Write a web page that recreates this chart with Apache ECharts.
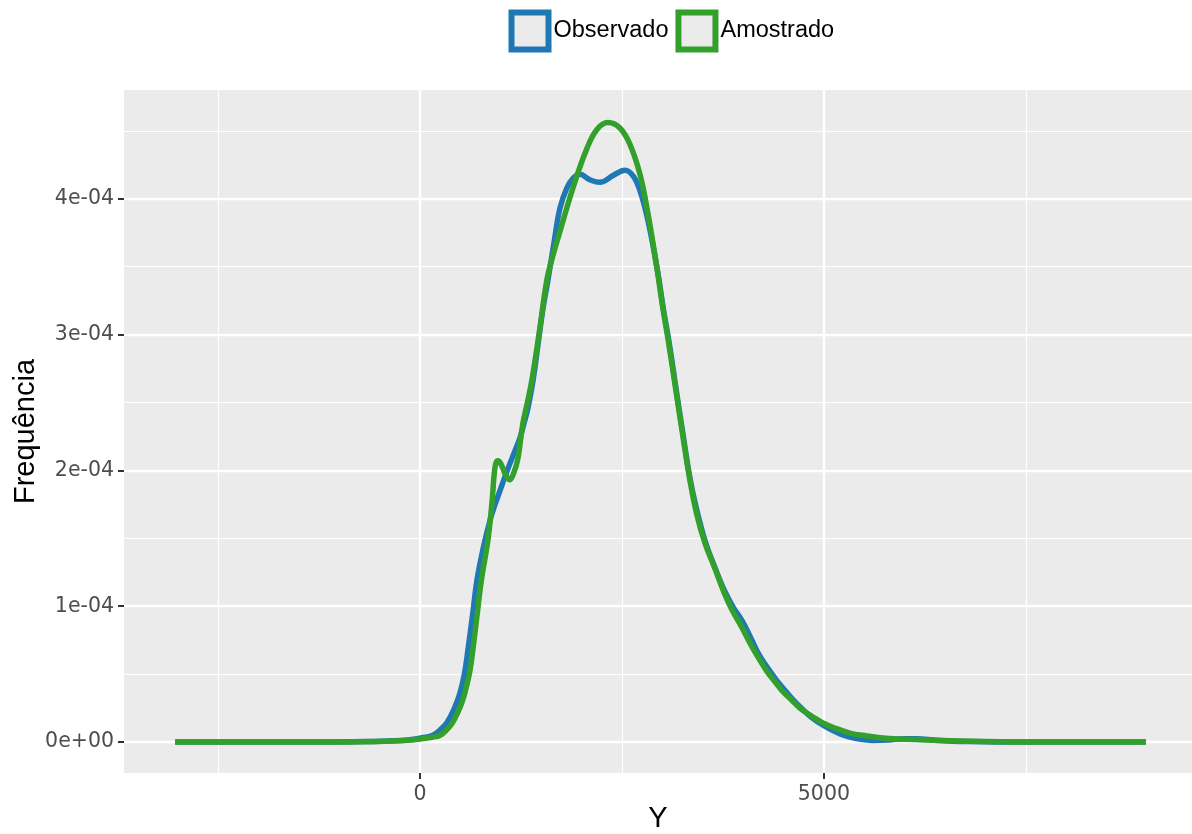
<!DOCTYPE html>
<html>
<head>
<meta charset="utf-8">
<script src="https://cdn.jsdelivr.net/npm/echarts@6/dist/echarts.min.js"></script>
<style>
  html, body { margin: 0; padding: 0; background: #ffffff; }
  #chart { width: 1192px; height: 834px; }
</style>
</head>
<body>
<div id="chart"></div>
<script>
// Kernel density estimates of Y: observed sample vs. resampled values
const observadoX = [-3030, -2000, -1200, -700, -400, -150, 0, 160, 250, 330, 420, 495, 550, 594, 650, 705, 780, 866, 930, 990, 1050, 1114, 1180, 1238, 1290, 1337, 1399, 1460, 1520, 1584, 1660, 1733, 1819, 1894, 1980, 2100, 2228, 2389, 2537, 2636, 2723, 2822, 2946, 3010, 3090, 3170, 3255, 3340, 3430, 3535, 3655, 3765, 3880, 3990, 4100, 4200, 4310, 4420, 4520, 4620, 4720, 4850, 5000, 5200, 5400, 5600, 5800, 6000, 6150, 6400, 6800, 7500, 8985];
const observadoY = [0, 0, 0, 0.003e-4, 0.008e-4, 0.015e-4, 0.028e-4, 0.05e-4, 0.09e-4, 0.14e-4, 0.24e-4, 0.36e-4, 0.50e-4, 0.68e-4, 0.93e-4, 1.19e-4, 1.42e-4, 1.63e-4, 1.75e-4, 1.85e-4, 1.95e-4, 2.05e-4, 2.15e-4, 2.24e-4, 2.35e-4, 2.46e-4, 2.66e-4, 2.92e-4, 3.18e-4, 3.40e-4, 3.68e-4, 3.93e-4, 4.08e-4, 4.15e-4, 4.18e-4, 4.14e-4, 4.12e-4, 4.17e-4, 4.21e-4, 4.17e-4, 4.06e-4, 3.84e-4, 3.45e-4, 3.20e-4, 2.92e-4, 2.60e-4, 2.27e-4, 1.95e-4, 1.70e-4, 1.47e-4, 1.28e-4, 1.12e-4, 0.99e-4, 0.89e-4, 0.76e-4, 0.64e-4, 0.54e-4, 0.45e-4, 0.38e-4, 0.31e-4, 0.25e-4, 0.18e-4, 0.12e-4, 0.06e-4, 0.025e-4, 0.012e-4, 0.015e-4, 0.025e-4, 0.025e-4, 0.012e-4, 0.004e-4, 0, 0];

const amostradoX = [-3030, -2000, -1200, -700, -400, -150, 0, 150, 250, 330, 400, 470, 530, 580, 620, 655, 700, 760, 842, 891, 928, 960, 1000, 1050, 1110, 1160, 1210, 1275, 1330, 1390, 1480, 1570, 1650, 1733, 1894, 2067, 2191, 2327, 2475, 2599, 2723, 2822, 2933, 3005, 3075, 3165, 3255, 3335, 3425, 3530, 3650, 3765, 3865, 3980, 4084, 4190, 4295, 4400, 4493, 4600, 4703, 4850, 4988, 5150, 5322, 5530, 5730, 6000, 6560, 7500, 8985];
const amostradoY = [0, 0, 0, 0.002e-4, 0.006e-4, 0.013e-4, 0.022e-4, 0.035e-4, 0.05e-4, 0.09e-4, 0.14e-4, 0.22e-4, 0.31e-4, 0.42e-4, 0.53e-4, 0.68e-4, 0.90e-4, 1.19e-4, 1.49e-4, 1.76e-4, 2.02e-4, 2.07e-4, 2.05e-4, 1.98e-4, 1.93e-4, 1.98e-4, 2.08e-4, 2.35e-4, 2.50e-4, 2.68e-4, 3.03e-4, 3.40e-4, 3.59e-4, 3.76e-4, 4.08e-4, 4.37e-4, 4.51e-4, 4.56e-4, 4.52e-4, 4.40e-4, 4.18e-4, 3.89e-4, 3.49e-4, 3.20e-4, 2.95e-4, 2.60e-4, 2.25e-4, 1.95e-4, 1.68e-4, 1.46e-4, 1.28e-4, 1.10e-4, 0.97e-4, 0.85e-4, 0.73e-4, 0.62e-4, 0.52e-4, 0.44e-4, 0.37e-4, 0.31e-4, 0.25e-4, 0.19e-4, 0.14e-4, 0.10e-4, 0.066e-4, 0.045e-4, 0.03e-4, 0.02e-4, 0.01e-4, 0, 0];

// Axis breaks and labels
const xMajorTicks = [0, 5000];
const xMajorLabels = ['0', '5000'];
const xMinorTicks = [-2500, 2500, 7500];
const yMajorTicks = [0, 1e-4, 2e-4, 3e-4, 4e-4];
const yMajorLabels = ['0e+00', '1e-04', '2e-04', '3e-04', '4e-04'];
const yMinorTicks = [0.5e-4, 1.5e-4, 2.5e-4, 3.5e-4, 4.5e-4];

const seriesNames = ['Observado', 'Amostrado'];
const seriesColors = ['#1F78B4', '#33A02C'];

const X_MIN = -3664, X_MAX = 9557;
const Y_MIN = -0.228e-4, Y_MAX = 4.80e-4;

const pairs = (xs, ys) => xs.map((x, i) => [x, ys[i]]);
const labelFor = (ticks, labels) => (v) => {
  const i = ticks.findIndex(t => Math.abs(t - v) < 1e-12 + Math.abs(t) * 1e-9);
  return i >= 0 ? labels[i] : '';
};

const tickText = { color: '#4D4D4D', fontFamily: 'DejaVu Sans', fontSize: 20.5 };
const titleText = { color: '#000000', fontFamily: 'Liberation Sans', fontSize: 29 };

const chart = echarts.init(document.getElementById('chart'), null, { renderer: 'canvas' });

chart.setOption({
  animation: false,
  backgroundColor: '#ffffff',
  grid: {
    left: 124, top: 90, right: 0, bottom: 61,
    containLabel: false, outerBoundsMode: 'none',
    show: true, backgroundColor: '#EBEBEB', borderWidth: 0
  },
  legend: {
    top: 4.5, left: 503.5,
    itemWidth: 37, itemHeight: 37, itemGap: 7,
    textStyle: { color: '#000000', fontFamily: 'Liberation Sans', fontSize: 23.5 },
    data: seriesNames.map((n, i) => ({
      name: n, icon: 'rect',
      itemStyle: { color: '#EBEBEB', borderColor: seriesColors[i], borderWidth: 6 }
    }))
  },
  xAxis: [
    {
      type: 'value', min: X_MIN, max: X_MAX,
      name: 'Y', nameLocation: 'middle', nameGap: 31, nameMoveOverlap: false, nameTextStyle: titleText,
      axisLine: { show: false, onZero: false },
      axisTick: { show: true, length: 6, lineStyle: { color: '#333333', width: 2 }, customValues: xMajorTicks },
      axisLabel: { ...tickText, margin: 11, customValues: xMajorTicks, formatter: labelFor(xMajorTicks, xMajorLabels) },
      splitLine: { show: true, lineStyle: { color: '#FFFFFF', width: 2.4 } }
    },
    {
      type: 'value', min: X_MIN, max: X_MAX, position: 'bottom',
      axisLine: { show: false, onZero: false },
      axisTick: { show: false, customValues: xMinorTicks },
      axisLabel: { show: false, customValues: xMinorTicks },
      splitLine: { show: true, lineStyle: { color: '#FFFFFF', width: 1.2 } }
    }
  ],
  yAxis: [
    {
      type: 'value', min: Y_MIN, max: Y_MAX,
      name: 'Frequência', nameLocation: 'middle', nameGap: 84, nameMoveOverlap: false, nameTextStyle: titleText,
      axisLine: { show: false, onZero: false },
      axisTick: { show: true, length: 6, lineStyle: { color: '#333333', width: 2 }, customValues: yMajorTicks },
      axisLabel: { ...tickText, margin: 10, customValues: yMajorTicks, formatter: labelFor(yMajorTicks, yMajorLabels) },
      splitLine: { show: true, lineStyle: { color: '#FFFFFF', width: 2.4 } }
    },
    {
      type: 'value', min: Y_MIN, max: Y_MAX, position: 'left',
      axisLine: { show: false, onZero: false },
      axisTick: { show: false, customValues: yMinorTicks },
      axisLabel: { show: false, customValues: yMinorTicks },
      splitLine: { show: true, lineStyle: { color: '#FFFFFF', width: 1.2 } }
    }
  ],
  series: [
    {
      name: seriesNames[0], type: 'line', xAxisIndex: 0, yAxisIndex: 0,
      data: pairs(observadoX, observadoY),
      smooth: 0.4, showSymbol: false, symbol: 'none',
      lineStyle: { color: seriesColors[0], width: 5.5, cap: 'butt', join: 'round' },
      itemStyle: { color: seriesColors[0] }, z: 3
    },
    {
      name: seriesNames[1], type: 'line', xAxisIndex: 0, yAxisIndex: 0,
      data: pairs(amostradoX, amostradoY),
      smooth: 0.4, showSymbol: false, symbol: 'none',
      lineStyle: { color: seriesColors[1], width: 5.5, cap: 'butt', join: 'round' },
      itemStyle: { color: seriesColors[1] }, z: 4
    }
  ]
});
</script>
</body>
</html>
